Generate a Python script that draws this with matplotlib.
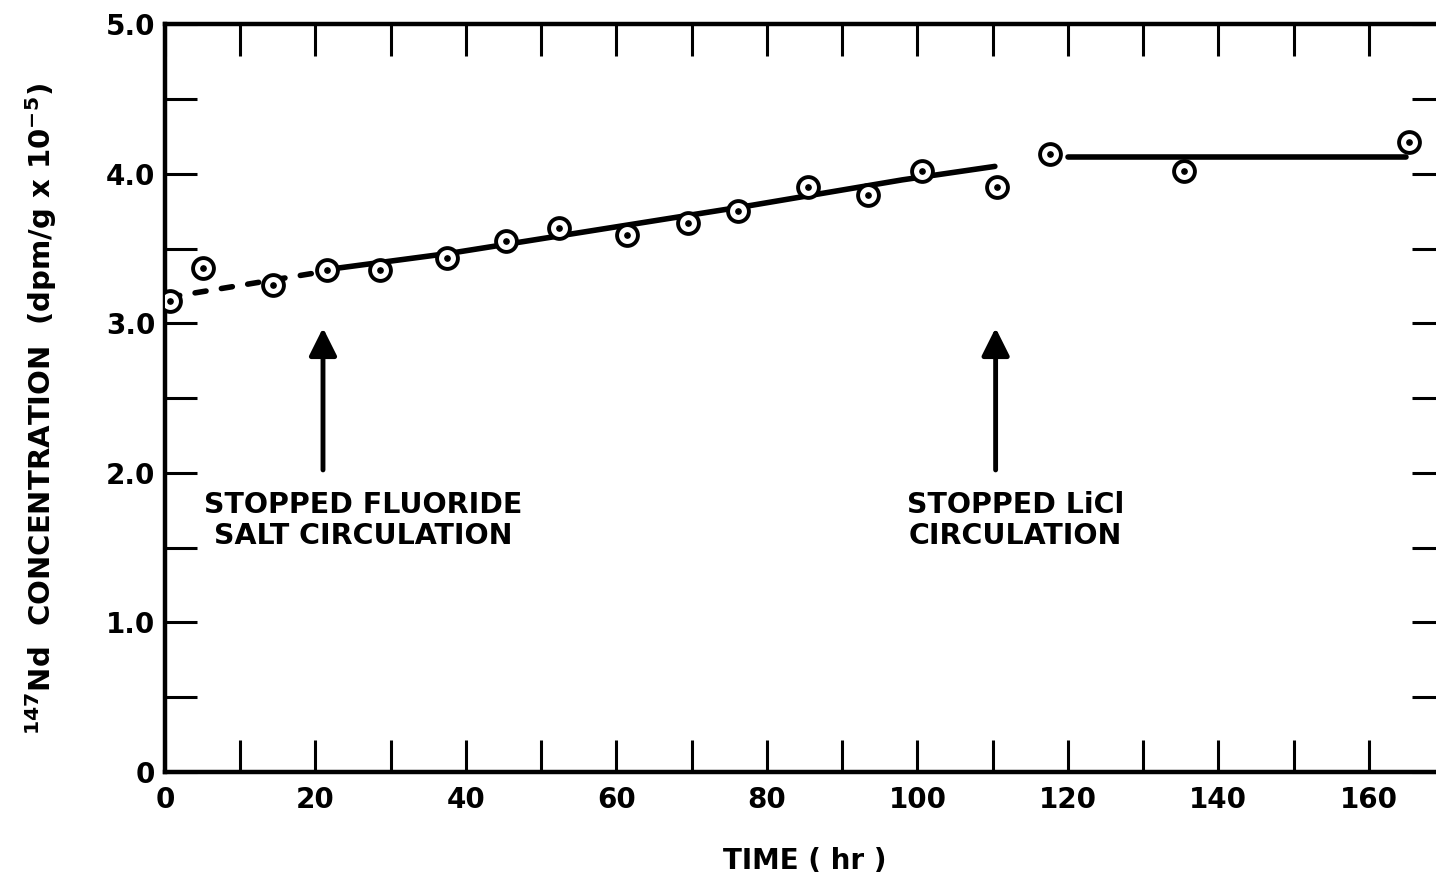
import matplotlib
matplotlib.use("Agg")
import matplotlib.pyplot as plt
from matplotlib.ticker import MultipleLocator

# Nd-147 in the salt vs. time
time_hr = [0.7, 5.0, 14.4, 21.5, 28.6, 37.5, 45.3, 52.4, 61.4, 69.5,
           76.1, 85.4, 93.5, 100.6, 110.6, 117.6, 135.4, 165.4]
nd147 = [3.15, 3.37, 3.26, 3.36, 3.36, 3.44, 3.55, 3.64, 3.59, 3.67,
         3.75, 3.91, 3.86, 4.02, 3.91, 4.13, 4.02, 4.21]

# hand-drawn trend lines
dash_t = [0.5, 21.5]
dash_c = [3.175, 3.35]
solid_t = [21.5, 38.0, 58.0, 78.0, 98.0, 110.3]
solid_c = [3.36, 3.47, 3.63, 3.79, 3.96, 4.05]
flat_t = [120.0, 165.0]
flat_c = [4.11, 4.11]

# event arrows
arrow_t = [21.0, 110.4]
arrow_lo = 2.02
arrow_hi = 2.97
notes = ["STOPPED FLUORIDE\nSALT CIRCULATION", "STOPPED LiCl\nCIRCULATION"]
note_t = [26.4, 113.0]
note_c = 1.68

plt.rcParams['font.family'] = 'DejaVu Sans'
plt.rcParams['font.weight'] = 'bold'
plt.rcParams['mathtext.fontset'] = 'dejavusans'

fig = plt.figure(figsize=(14.36, 8.85), dpi=100)
ax = fig.add_axes([0.1149, 0.1277, 0.8907, 0.8448])

ax.plot(dash_t, dash_c, color='k', lw=4, linestyle=(0, (2.0, 2.8)),
        dash_capstyle='round')
ax.plot(solid_t, solid_c, color='k', lw=4, solid_capstyle='round')
ax.plot(flat_t, flat_c, color='k', lw=4, solid_capstyle='round')

ax.plot(time_hr, nd147, linestyle='none', marker='o', ms=15,
        mfc='white', mec='k', mew=2.8, zorder=3)
ax.plot(time_hr, nd147, linestyle='none', marker='o', ms=3.8,
        mfc='k', mec='k', zorder=4)

for t in arrow_t:
    ax.annotate('', xy=(t, arrow_hi), xytext=(t, arrow_lo),
                arrowprops=dict(arrowstyle='-|>', lw=3.5, color='k',
                                mutation_scale=42, shrinkA=0, shrinkB=0))

for s, t in zip(notes, note_t):
    ax.text(t, note_c, s, ha='center', va='center', fontsize=20.5,
            fontweight='bold', linespacing=1.12)

ax.set_xlim(0, 170)
ax.set_ylim(0, 5.0)
ax.xaxis.set_minor_locator(MultipleLocator(10))
ax.yaxis.set_minor_locator(MultipleLocator(0.5))
ax.set_yticks([0, 1, 2, 3, 4, 5])
ax.set_yticklabels(['0', '1.0', '2.0', '3.0', '4.0', '5.0'])
ax.set_xticks([0, 20, 40, 60, 80, 100, 120, 140, 160])
ax.set_xticklabels(['0', '20', '40', '60', '80', '100', '120', '140', '160'])

ax.tick_params(which='both', direction='in', top=True, right=True,
               length=23, width=2.2, labelsize=20)
ax.tick_params(axis='x', which='major', pad=10)
ax.tick_params(axis='y', which='major', pad=7)
for lab in ax.get_xticklabels() + ax.get_yticklabels():
    lab.set_fontweight('bold')
for sp in ax.spines.values():
    sp.set_linewidth(3.2)

ax.set_xlabel('TIME ( hr )', fontsize=20, fontweight='bold', labelpad=24)
ax.set_ylabel(r'$^{\mathbf{147}}$Nd  CONCENTRATION  (dpm/g x 10$^{\mathbf{-5}}$)',
              fontsize=21, fontweight='bold')
ax.yaxis.set_label_coords(-0.083, 0.485)

fig.savefig('out.png', dpi=100)
